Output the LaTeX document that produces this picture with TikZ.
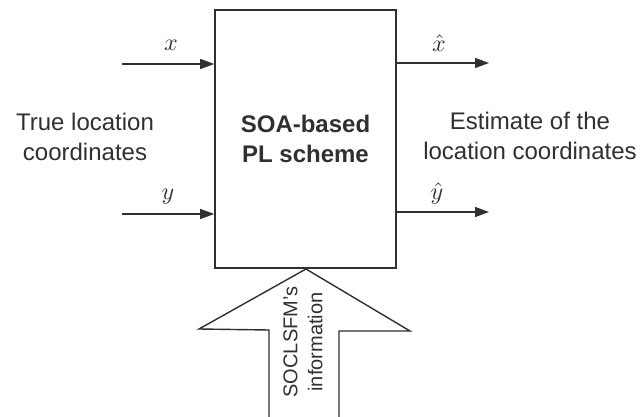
\documentclass[tikz,border=0pt]{standalone}
\usepackage{fontspec}
\setmainfont{Liberation Sans}
\usetikzlibrary{arrows.meta}
\definecolor{ink}{HTML}{303030}
\begin{document}
\begin{tikzpicture}[x=1pt,y=-1pt,
  sig/.style={draw=ink,line width=1.4pt,-{Triangle[length=14pt,width=10pt]}},
  lbl/.style={text=ink,font=\fontsize{24}{30}\selectfont,align=center},
  var/.style={text=ink,inner sep=0pt}]
\useasboundingbox (0,0) rectangle (640,417);
\fill[white] (0,0) rectangle (640,417);

% processing block
\node[draw=ink,line width=1.6pt,minimum width=181pt,minimum height=258pt,inner sep=0pt,
      font=\bfseries\fontsize{24}{30}\selectfont,text=ink,align=center]
  (blk) at (305.5,139) {SOA-based\\PL scheme};

% input and output signals
\coordinate (xin) at (122,64);
\coordinate (yin) at (122,214);
\coordinate (xout) at (489,63);
\coordinate (yout) at (489,212);
\draw[sig] (xin) -- (xin -| blk.west);
\draw[sig] (yin) -- (yin -| blk.west);
\draw[sig] (xout -| blk.east) -- (xout);
\draw[sig] (yout -| blk.east) -- (yout);

\node[var] (lx) at (171,45) {\scalebox{2.4}{$x$}};
\node[var] (ly) at (168,197) {\scalebox{2.4}{$y$}};
\node[var] (lxh) at (439,43) {\scalebox{2.4}{$\hat{x}$}};
\node[var] (lyh) at (437,193) {\scalebox{2.4}{$\hat{y}$}};

% side captions
\node[lbl] (tl) at (85,137) {True location\\coordinates};
\node[lbl] (el) at (530,136) {Estimate of the\\location coordinates};

% side information arrow
\draw[ink,line width=1.4pt,fill=white]
  (306,269) -- (410,331) -- (339,331) -- (339,425) -- (269,425) -- (269,330) -- (199,329) -- cycle;
\node[lbl,rotate=90,font=\fontsize{20}{25}\selectfont] (si) at (303,342) {SOCLSFM's\\information};
\end{tikzpicture}
\end{document}
